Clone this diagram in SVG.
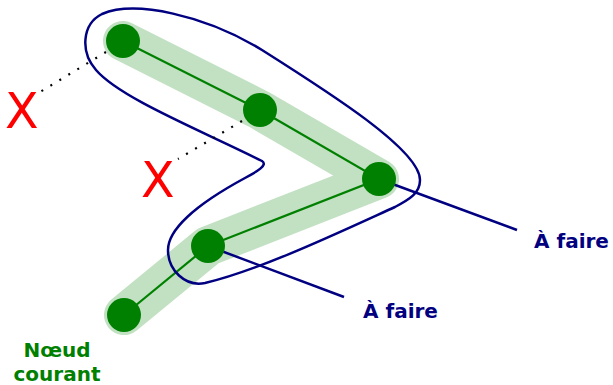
<svg xmlns="http://www.w3.org/2000/svg" width="613" height="385" viewBox="0 0 613 385">
<style>
.band{fill:none;stroke:#c2e0c2;stroke-width:40;stroke-linejoin:round;stroke-linecap:round}
.edge{fill:none;stroke:#008000;stroke-width:2.2}
.node{fill:#008000}
.navy{fill:none;stroke:#000080;stroke-width:2.5}
.dot{fill:none;stroke:#000;stroke-width:2.2;stroke-dasharray:2 8.5}
.lbl{font-family:"DejaVu Sans",sans-serif;font-weight:bold;font-size:20px}
.x{font-family:"DejaVu Sans",sans-serif;font-size:49px;fill:#ff0000}
</style>
<g id="band">
<path class="band" d="M123,41 L260,110 L379,179 L208,246 L124,315"/>
</g>
<g id="connectors">
<path class="edge" d="M123,41 L260,110 L379,179 L208,246 L124,315"/>
<path class="navy" d="M262,161 C200,130 120,98 96,70 C80,52 82,24 102,14 C135,0 205,15 262,50 C330,93 420,150 420,180 C420,193 410,199 395,207 C340,232 260,270 205,283 C185,287 168,270 168,250 C168,230 195,205 245,178 C258,171 268,165 262,161 Z"/>
<line class="navy" x1="379" y1="179" x2="517" y2="230"/>
<line class="navy" x1="208" y1="246" x2="344" y2="297"/>
<line class="dot" x1="106" y1="52" x2="40" y2="92"/>
<line class="dot" x1="242" y1="121" x2="178" y2="159"/>
</g>
<g id="n1"><circle class="node" cx="123" cy="41" r="17"/></g>
<g id="n2"><circle class="node" cx="260" cy="110" r="17"/></g>
<g id="n3"><circle class="node" cx="379" cy="179" r="17"/></g>
<g id="n4"><circle class="node" cx="208" cy="246" r="17"/></g>
<g id="n5"><circle class="node" cx="124" cy="315" r="17"/></g>
<g id="labels">
<text class="lbl" x="534" y="248" fill="#000080">À faire</text>
<text class="lbl" x="363" y="318" fill="#000080">À faire</text>
<text class="lbl" x="57" y="357" fill="#008000" text-anchor="middle">Nœud</text>
<text class="lbl" x="57" y="381" fill="#008000" text-anchor="middle">courant</text>
<text class="x" x="5" y="128">X</text>
<text class="x" x="141" y="197">X</text>
</g>
</svg>
